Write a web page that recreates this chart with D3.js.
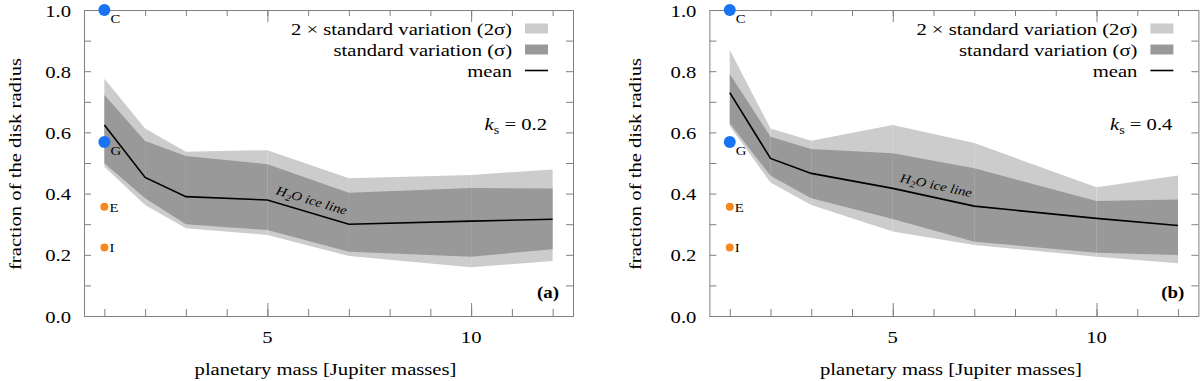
<!doctype html>
<html>
<head>
<style>
    body { margin: 0; background: #fff; }
    .axis path, .axis line { stroke: #808080; stroke-width: 1; }
    .band2 { fill: #cccccc; }
    .band1 { fill: #999999; }
    .mean { fill: none; stroke: #000; stroke-width: 1.6; }
</style>
<script src="https://d3js.org/d3.v7.min.js"></script>
</head>
<body>
<svg width="1200" height="381"></svg>
<script>
    // planetary masses (Jupiter masses) of the simulations
    var masses = [1, 2, 3, 5, 7, 10, 12];

    // panel (a), k_s = 0.2
    var meanA  = [0.624, 0.453, 0.390, 0.379, 0.300, 0.310, 0.316];
    var sigHiA = [0.722, 0.572, 0.523, 0.496, 0.403, 0.418, 0.417];
    var sigLoA = [0.499, 0.385, 0.300, 0.281, 0.210, 0.194, 0.218];
    var twoHiA = [0.775, 0.613, 0.537, 0.542, 0.450, 0.461, 0.479];
    var twoLoA = [0.488, 0.363, 0.287, 0.265, 0.196, 0.159, 0.180];

    // panel (b), k_s = 0.4
    var meanB  = [0.730, 0.515, 0.466, 0.417, 0.359, 0.319, 0.296];
    var sigHiB = [0.791, 0.586, 0.546, 0.532, 0.483, 0.376, 0.381];
    var sigLoB = [0.630, 0.458, 0.385, 0.317, 0.243, 0.207, 0.199];
    var twoHiB = [0.869, 0.613, 0.573, 0.624, 0.565, 0.421, 0.459];
    var twoLoB = [0.621, 0.436, 0.363, 0.276, 0.232, 0.194, 0.172];

    // solar system planets, drawn in the 1 Jupiter mass column
    var planetNames  = ["C", "G", "E", "I"];
    var planetValues = [1.0, 0.569, 0.357, 0.224];
    var planetColors = ["#1a73f5", "#1a73f5", "#f5891f", "#f5891f"];
    var planetRadius = [6, 6, 4, 4];

    var xTicks = [5, 10];
    var yTicks = [0, 0.2, 0.4, 0.6, 0.8, 1.0];

    var FONT = "Liberation Serif";
    var SX = 1.18;   // the original type is a little wide

    var svg = d3.select("svg");

    // text helper: horizontally stretched serif text
    function txt(g, x, y, size, anchor) {
        return g.append("text")
            .attr("transform", "translate(" + x + "," + y + ") scale(" + SX + ",1)")
            .attr("font-family", FONT)
            .attr("font-size", size + "px")
            .attr("text-anchor", anchor || "start")
            .attr("fill", "#000");
    }

    function drawPanel(left, ks, tag, yTitleX, mean, sHi, sLo, tHi, tLo) {
        var width = 489, top = 10, bottom = 316;
        var x = d3.scaleLinear().domain([0.5, 12.5]).range([left, left + width]);
        var y = d3.scaleLinear().domain([0, 1]).range([bottom, top]);
        var g = svg.append("g");

        var rows = masses.map(function(m, i) {
            return {m: m, mean: mean[i], sHi: sHi[i], sLo: sLo[i], tHi: tHi[i], tLo: tLo[i]};
        });

        // bands drawn segment by segment (gives the faint seams at each mass)
        var area2 = d3.area().x(function(d) { return x(d.m); })
            .y0(function(d) { return y(d.tLo); }).y1(function(d) { return y(d.tHi); });
        var area1 = d3.area().x(function(d) { return x(d.m); })
            .y0(function(d) { return y(d.sLo); }).y1(function(d) { return y(d.sHi); });
        var segs = d3.pairs(rows);
        g.selectAll(".band2").data(segs).enter().append("path")
         .attr("class", "band2").attr("d", area2);
        g.selectAll(".band1").data(segs).enter().append("path")
         .attr("class", "band1").attr("d", area1);

        g.append("path").datum(rows).attr("class", "mean")
         .attr("d", d3.line().x(function(d) { return x(d.m); }).y(function(d) { return y(d.mean); }));

        // ice line label along the 5 -> 7 segment
        var x0 = x(5), y0 = y(mean[3]), x1 = x(7), y1 = y(mean[4]);
        var ang = Math.atan2(y1 - y0, x1 - x0) * 180 / Math.PI;
        var lx = x(6), ly = y((mean[3] + mean[4]) / 2);
        var ice = g.append("text")
            .attr("transform", "translate(" + lx + "," + ly + ") rotate(" + ang + ") translate(0,-8) scale(" + SX + ",1)")
            .attr("text-anchor", "middle").attr("font-family", FONT)
            .attr("font-size", "12.5px").attr("font-style", "italic");
        ice.append("tspan").text("H");
        ice.append("tspan").attr("font-size", "9px").attr("dy", 3).text("2");
        ice.append("tspan").attr("dy", -3).text("O ice line");

        // axes with inward ticks
        g.append("g").attr("class", "axis").attr("transform", "translate(0," + bottom + ")")
         .call(d3.axisBottom(x).tickValues(d3.range(1, 13)).tickSize(-7).tickSizeOuter(0).tickFormat(""));
        g.append("g").attr("class", "axis").attr("transform", "translate(0," + bottom + ")")
         .call(d3.axisBottom(x).tickValues(xTicks).tickSize(-13).tickSizeOuter(0).tickFormat(""));
        g.append("g").attr("class", "axis").attr("transform", "translate(0," + top + ")")
         .call(d3.axisTop(x).tickValues(d3.range(1, 13)).tickSize(-6).tickSizeOuter(0).tickFormat(""));
        g.append("g").attr("class", "axis").attr("transform", "translate(0," + top + ")")
         .call(d3.axisTop(x).tickValues(xTicks).tickSize(-12).tickSizeOuter(0).tickFormat(""));
        g.append("g").attr("class", "axis").attr("transform", "translate(" + left + ",0)")
         .call(d3.axisLeft(y).ticks(10).tickSize(-7).tickSizeOuter(0).tickFormat(""));
        g.append("g").attr("class", "axis").attr("transform", "translate(" + (left + width) + ",0)")
         .call(d3.axisRight(y).ticks(10).tickSize(-7).tickSizeOuter(0).tickFormat(""));

        // tick labels
        xTicks.forEach(function(t) {
            txt(g, x(t), 343, 17.5, "middle").text(t);
        });
        yTicks.forEach(function(t) {
            txt(g, left - 13, y(t) + 6.5, 17.5, "end").text(d3.format(".1f")(t));
        });

        // planets
        planetNames.forEach(function(name, i) {
            g.append("circle").attr("cx", x(1)).attr("cy", y(planetValues[i]))
             .attr("r", planetRadius[i]).attr("fill", planetColors[i]);
            var big = planetRadius[i] > 5;
            txt(g, x(1) + (big ? 6 : 5), y(planetValues[i]) + (big ? 13 : 5), 12.5).text(name);
        });

        // axis titles
        txt(g, left + width / 2 - 3, 375, 17.5, "middle").text("planetary mass [Jupiter masses]");
        g.append("text")
         .attr("transform", "translate(" + yTitleX + "," + ((top + bottom) / 2 + 1) + ") rotate(-90) scale(" + SX + ",1)")
         .attr("text-anchor", "middle").attr("font-family", FONT).attr("font-size", "17.5px")
         .text("fraction of the disk radius");

        // legend
        var right = left + width;
        var legY = [28.5, 49.5, 70.5];
        var legText = ["2 \u00d7 standard variation (2\u03c3)", "standard variation (\u03c3)", "mean"];
        legText.forEach(function(t, i) {
            txt(g, right - 61, legY[i] + 6, 17.5, "end").text(t);
        });
        g.append("rect").attr("class", "band2").attr("x", right - 48).attr("y", legY[0] - 5)
         .attr("width", 23).attr("height", 10);
        g.append("rect").attr("class", "band1").attr("x", right - 48).attr("y", legY[1] - 5)
         .attr("width", 23).attr("height", 10);
        g.append("line").attr("x1", right - 48).attr("x2", right - 25)
         .attr("y1", legY[2]).attr("y2", legY[2]).attr("stroke", "#000").attr("stroke-width", 1.6);

        // k_s label
        var k = txt(g, right - 26, 130, 17.5, "end");
        k.append("tspan").attr("font-style", "italic").text("k");
        k.append("tspan").attr("font-size", "12px").attr("dy", 4).text("s");
        k.append("tspan").attr("dy", -4).text(" = " + ks);

        // panel tag
        txt(g, right - 14, 298, 16, "end").attr("font-weight", "bold").text(tag);
    }

    drawPanel(84, "0.2", "(a)", 21, meanA, sigHiA, sigLoA, twoHiA, twoLoA);
    drawPanel(709.4, "0.4", "(b)", 641, meanB, sigHiB, sigLoB, twoHiB, twoLoB);
</script>
</body>
</html>
